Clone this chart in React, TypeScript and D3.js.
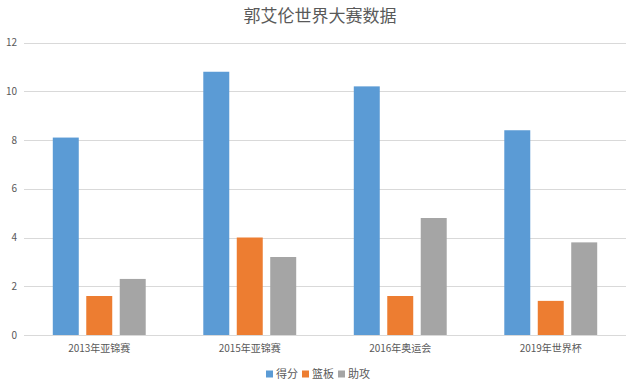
import React, { useRef, useEffect } from "react";
import * as d3 from "d3";

const title = "郭艾伦世界大赛数据";
const categories = ["2013年亚锦赛", "2015年亚锦赛", "2016年奥运会", "2019年世界杯"];
const seriesNames = ["得分", "篮板", "助攻"];
const points = [8.1, 10.8, 10.2, 8.4];
const rebounds = [1.6, 4.0, 1.6, 1.4];
const assists = [2.3, 3.2, 4.8, 3.8];
const yTicks = [0, 2, 4, 6, 8, 10, 12];
const colors = ["#5b9bd5", "#ed7d31", "#a5a5a5"];

const App: React.FC = () => {
  const svgRef = useRef<SVGSVGElement>(null);

  useEffect(() => {
    if (!svgRef.current) return;
    const width = 640;
    const height = 391;
    const margin = { top: 42.5, right: 14, bottom: 56, left: 24 };
    const font = "'Noto Sans CJK SC', 'Noto Sans', sans-serif";

    const svg = d3.select(svgRef.current);
    svg.selectAll("*").remove();
    svg.attr("width", width).attr("height", height).style("font-family", font);

    svg.append("rect").attr("width", width).attr("height", height).attr("fill", "#fff");

    const values = [points, rebounds, assists];

    // Scales
    const x0 = d3
      .scaleBand<string>()
      .domain(categories)
      .range([margin.left, width - margin.right])
      .paddingInner(0)
      .paddingOuter(0);
    const x1 = d3
      .scaleBand<string>()
      .domain(seriesNames)
      .range([0, x0.bandwidth()])
      .paddingInner(0.224)
      .paddingOuter(0.86);
    const y = d3
      .scaleLinear()
      .domain([0, 12])
      .range([height - margin.bottom, margin.top]);

    // Title
    svg
      .append("text")
      .attr("x", width / 2)
      .attr("y", 22)
      .attr("text-anchor", "middle")
      .attr("fill", "#595959")
      .style("font-size", "17px")
      .text(title);

    // Grid lines
    svg
      .append("g")
      .selectAll("line")
      .data(yTicks)
      .join("line")
      .attr("x1", margin.left)
      .attr("x2", width - margin.right)
      .attr("y1", (d) => Math.round(y(d)) + 0.5)
      .attr("y2", (d) => Math.round(y(d)) + 0.5)
      .attr("stroke", "#d9d9d9")
      .attr("stroke-width", 1);

    // Y labels
    svg
      .append("g")
      .selectAll("text")
      .data(yTicks)
      .join("text")
      .attr("x", 17)
      .attr("y", (d) => y(d))
      .attr("dy", "0.35em")
      .attr("text-anchor", "end")
      .attr("fill", "#595959")
      .style("font-size", "10px")
      .text((d) => d);

    // Bars
    const groups = svg
      .append("g")
      .selectAll("g")
      .data(categories)
      .join("g")
      .attr("transform", (d) => `translate(${x0(d)},0)`);

    groups
      .selectAll("rect")
      .data((_, i) => seriesNames.map((s, k) => ({ s, v: values[k][i], k })))
      .join("rect")
      .attr("x", (d) => x1(d.s)!)
      .attr("width", x1.bandwidth())
      .attr("y", (d) => y(d.v))
      .attr("height", (d) => y(0) - y(d.v))
      .attr("fill", (d) => colors[d.k]);

    // X labels
    svg
      .append("g")
      .selectAll("text")
      .data(categories)
      .join("text")
      .attr("x", (d) => x0(d)! + x0.bandwidth() / 2)
      .attr("y", height - margin.bottom + 17)
      .attr("text-anchor", "middle")
      .attr("fill", "#595959")
      .style("font-size", "10px")
      .text((d) => d);

    // Legend
    const legendX = [266, 302, 338];
    const legend = svg
      .append("g")
      .selectAll("g")
      .data(seriesNames)
      .join("g")
      .attr("transform", (_, i) => `translate(${legendX[i]},374)`);
    legend
      .append("rect")
      .attr("x", 0)
      .attr("y", -3.5)
      .attr("width", 7)
      .attr("height", 7)
      .attr("fill", (_, i) => colors[i]);
    legend
      .append("text")
      .attr("x", 10)
      .attr("y", 0)
      .attr("dy", "0.38em")
      .attr("fill", "#595959")
      .style("font-size", "11px")
      .text((d) => d);

    return () => {
      svg.selectAll("*").remove();
    };
  }, []);

  return <svg ref={svgRef} style={{ position: "absolute", left: 0, top: 0, display: "block" }}></svg>;
};

export default App;
